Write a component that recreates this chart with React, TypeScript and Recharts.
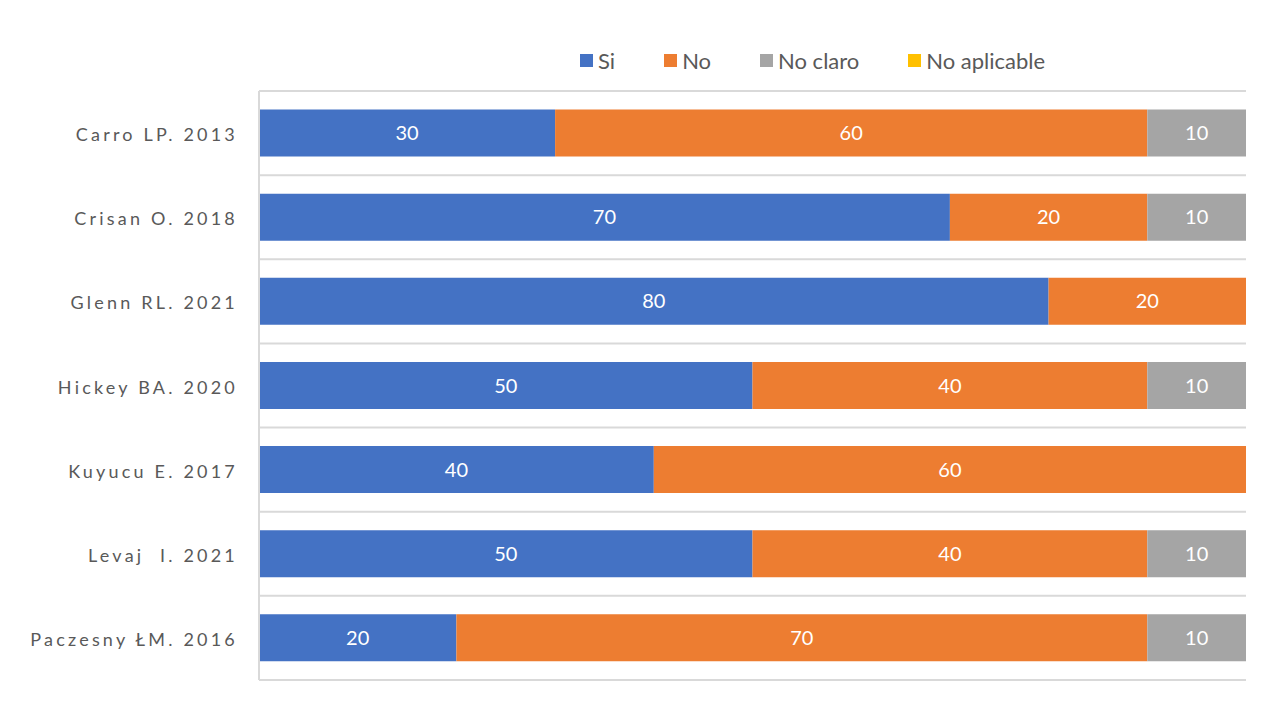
import React from 'react';
import { BarChart, Bar, XAxis, YAxis, CartesianGrid, LabelList, Legend, Customized } from 'recharts';

const categories = [
  'Carro LP. 2013',
  'Crisan O. 2018',
  'Glenn RL. 2021',
  'Hickey BA. 2020',
  'Kuyucu E. 2017',
  'Levaj  I. 2021',
  'Paczesny ŁM. 2016',
];
const siValues = [30, 70, 80, 50, 40, 50, 20];
const noValues = [60, 20, 20, 40, 60, 40, 70];
const noClaroValues = [10, 10, 0, 10, 0, 10, 10];
const noAplicableValues = [0, 0, 0, 0, 0, 0, 0];

const seriesNames = ['Si', 'No', 'No claro', 'No aplicable'];
const seriesColors = ['#4472C4', '#ED7D31', '#A5A5A5', '#FFC000'];
const seriesKeys = ['si', 'no', 'noClaro', 'noAplicable'];

const data = categories.map((name, i) => ({
  name,
  si: siValues[i],
  no: noValues[i],
  noClaro: noClaroValues[i],
  noAplicable: noAplicableValues[i],
}));

const FONT = 'Lato, "Open Sans", sans-serif';

const YTick = (props: any) => {
  const { x, y, payload } = props;
  return (
    <text
      x={x}
      y={y}
      dy={8}
      textAnchor="end"
      fill="#595959"
      fontSize={18}
      fontFamily={FONT}
      letterSpacing={3.2}
      style={{ whiteSpace: 'pre' }}
    >
      {payload.value}
    </text>
  );
};

const renderLegend = () => (
  <div style={{ display: 'flex', alignItems: 'center', fontFamily: FONT, fontSize: 22, color: '#595959' }}>
    {seriesNames.map((n, i) => (
      <div key={n} style={{ display: 'flex', alignItems: 'center', marginRight: i < seriesNames.length - 1 ? 49 : 0 }}>
        <span style={{ display: 'inline-block', width: 13, height: 13, background: seriesColors[i], marginRight: 5 }} />
        <span>{n}</span>
      </div>
    ))}
  </div>
);

const labelFormatter = (v: any) => (v ? v : '');

const Frame = () => <rect x={7} y={4} width={1264} height={730} fill="none" stroke="#d9d9d9" strokeWidth={2} />;

export default function App() {
  return (
    <div style={{ position: 'relative', margin: -8, width: 1274, height: 708, overflow: 'hidden', background: '#fff' }}>
      <div
        style={{
          position: 'absolute',
          left: 6,
          top: 3,
          width: 1266,
          height: 730,
          border: '2px solid #d9d9d9',
          boxSizing: 'border-box',
        }}
      />
      <div style={{ position: 'absolute', left: 0, top: 0 }}>
        <BarChart
          width={1274}
          height={708}
          data={data}
          layout="vertical"
          margin={{ top: 91, right: 28, bottom: 28, left: 0 }}
          barCategoryGap="22%"
        >
          <Customized component={Frame} />
          <CartesianGrid
            vertical={false}
            stroke="#d9d9d9"
            strokeWidth={2}
            horizontalCoordinatesGenerator={({ offset }: any) =>
              categories.map((_, i) => offset.top + (i * offset.height) / categories.length).concat([offset.top + offset.height])
            }
          />
          <XAxis type="number" domain={[0, 100]} hide />
          <YAxis
            type="category"
            dataKey="name"
            width={259}
            axisLine={{ stroke: '#d9d9d9', strokeWidth: 2 }}
            tickLine={false}
            tick={<YTick />}
            tickMargin={15}
            interval={0}
          />
          <Legend
            verticalAlign="middle"
            layout="horizontal"
            content={renderLegend}
            wrapperStyle={{ position: 'absolute', top: 47, left: 580, width: 'auto', height: 'auto' }}
          />
          {seriesKeys.map((k, i) => (
            <Bar key={k} dataKey={k} name={seriesNames[i]} stackId="a" fill={seriesColors[i]} isAnimationActive={false}>
              <LabelList
                dataKey={k}
                position="center"
                fill="#ffffff"
                fontSize={20}
                fontFamily={FONT}
                formatter={labelFormatter}
              />
            </Bar>
          ))}
        </BarChart>
      </div>
    </div>
  );
}
